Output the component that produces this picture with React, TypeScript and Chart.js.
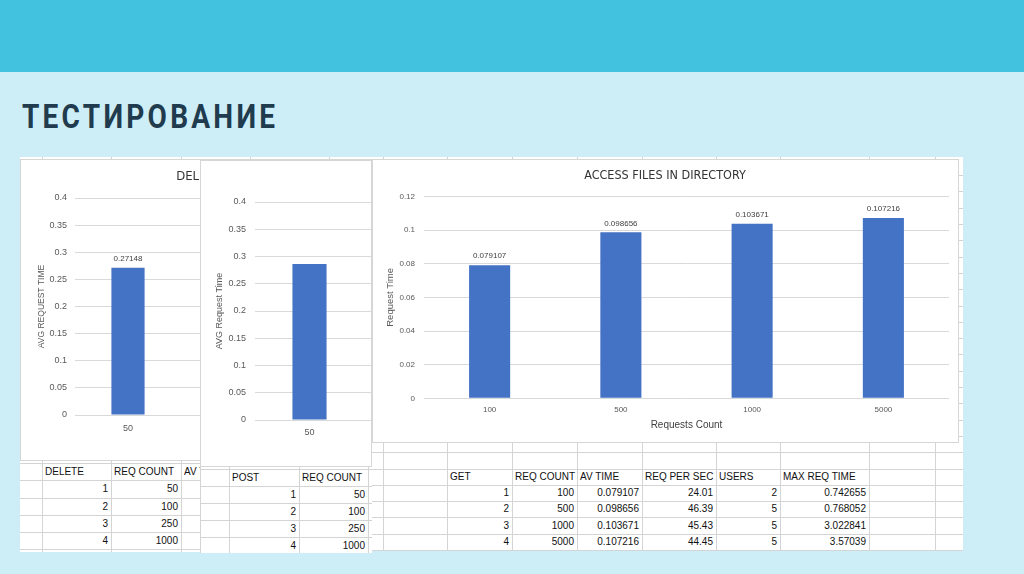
import React, { useEffect, useRef } from 'react';
import { Chart, registerables } from 'chart.js';

Chart.register(...registerables);

// ---------- data ----------
const deleteCategories = ['50', '100', '250', '1000'];
const deleteValues: (number | null)[] = [0.27148, null, null, null];

const postCategories = ['50', '100', '250', '1000'];
const postValues: (number | null)[] = [0.2862, null, null, null];

const getCategories = ['100', '500', '1000', '5000'];
const getValues: (number | null)[] = [0.079107, 0.098656, 0.103671, 0.107216];

const deleteTableHeader = ['', 'DELETE', 'REQ COUNT', 'AV TIME'];
const deleteIds = ['1', '2', '3', '4'];
const deleteReqCount = ['50', '100', '250', '1000'];

const postTableHeader = ['', 'POST', 'REQ COUNT'];
const postIds = ['1', '2', '3', '4'];
const postReqCount = ['50', '100', '250', '1000'];

const getTableHeader = ['', 'GET', 'REQ COUNT', 'AV TIME', 'REQ PER SEC', 'USERS', 'MAX REQ TIME'];
const getIds = ['1', '2', '3', '4'];
const getReqCount = ['100', '500', '1000', '5000'];
const getAvTime = ['0.079107', '0.098656', '0.103671', '0.107216'];
const getReqPerSec = ['24.01', '46.39', '45.43', '44.45'];
const getUsers = ['2', '5', '5', '5'];
const getMaxReqTime = ['0.742655', '0.768052', '3.022841', '3.57039'];

const deleteTitle = 'DELETE FILES IN DIRECTORY';
const getTitle = 'ACCESS FILES IN DIRECTORY';

// ---------- styles ----------
const FONT = "'Liberation Sans', Arial, sans-serif";
const NARROW = "'Liberation Sans Narrow', 'DejaVu Sans Condensed', 'Liberation Sans', sans-serif";
const BAR = '#4472C4';
const GRID = '#d9d9d9';
const TICK = '#595959';
const DARK = '#404040';

const fmt = (v: any) => String(parseFloat(Number(v).toFixed(6)));

const barValueLabels = {
  id: 'barValueLabels',
  afterDatasetsDraw(chart: any, _args: any, opts: any) {
    if (!opts || !opts.display) return;
    const ctx = chart.ctx;
    chart.data.datasets.forEach((ds: any, i: number) => {
      const meta = chart.getDatasetMeta(i);
      meta.data.forEach((el: any, j: number) => {
        const v = ds.data[j];
        if (v === null || v === undefined) return;
        ctx.save();
        ctx.font = `${opts.size}px ${FONT}`;
        ctx.fillStyle = DARK;
        ctx.textAlign = 'center';
        ctx.textBaseline = 'middle';
        ctx.fillText(String(v), el.x, el.y - opts.offset);
        ctx.restore();
      });
    });
  },
};

interface Spec {
  labels: string[];
  values: (number | null)[];
  title?: string;
  titleSize?: number;
  titlePad?: { top: number; bottom: number };
  yTitle: string;
  yTitleSize: number;
  yTitlePad: number;
  yMax: number;
  yStep: number;
  tickSize: number;
  yAxisWidth: number;
  yTickPad: number;
  xAxisHeight: number;
  xTickPad: number;
  xTitle?: string;
  xTitleSize?: number;
  xTitlePadBottom?: number;
  padding: { left: number; right: number; top: number; bottom: number };
  showValues: boolean;
  valueSize?: number;
  valueOffset?: number;
}

function makeConfig(s: Spec): any {
  return {
    type: 'bar',
    data: {
      labels: s.labels,
      datasets: [
        {
          data: s.values,
          backgroundColor: BAR,
          categoryPercentage: 0.313,
          barPercentage: 1,
          borderWidth: 0,
        },
      ],
    },
    options: {
      responsive: false,
      animation: false,
      events: [],
      layout: { padding: s.padding, autoPadding: false },
      plugins: {
        legend: { display: false },
        tooltip: { enabled: false },
        title: s.title
          ? {
              display: true,
              text: s.title,
              color: '#333333',
              font: { family: NARROW, size: s.titleSize, weight: 'normal', lineHeight: 1.2 },
              padding: s.titlePad,
            }
          : { display: false },
        barValueLabels: { display: s.showValues, size: s.valueSize, offset: s.valueOffset },
      },
      scales: {
        x: {
          grid: { display: false, drawTicks: false },
          border: { display: false },
          ticks: {
            font: { family: FONT, size: s.tickSize },
            color: TICK,
            padding: s.xTickPad,
            maxRotation: 0,
            autoSkip: false,
          },
          title: s.xTitle
            ? {
                display: true,
                text: s.xTitle,
                color: DARK,
                font: { family: FONT, size: s.xTitleSize },
                padding: { top: 0, bottom: s.xTitlePadBottom },
              }
            : { display: false },
          afterFit: (sc: any) => {
            sc.height = s.xAxisHeight;
          },
        },
        y: {
          min: 0,
          max: s.yMax,
          grid: { color: GRID, drawTicks: false, lineWidth: 1 },
          border: { display: false },
          ticks: {
            stepSize: s.yStep,
            font: { family: FONT, size: s.tickSize },
            color: TICK,
            padding: s.yTickPad,
            callback: (v: any) => fmt(v),
          },
          title: {
            display: true,
            text: s.yTitle,
            color: TICK,
            font: { family: FONT, size: s.yTitleSize },
            padding: { top: s.yTitlePad, bottom: 0 },
          },
          afterFit: (sc: any) => {
            sc.width = s.yAxisWidth;
          },
        },
      },
    },
    plugins: [barValueLabels],
  };
}

function ChartBox(props: {
  left: number;
  top: number;
  width: number;
  height: number;
  canvasWidth: number;
  spec: Spec;
}) {
  const ref = useRef<HTMLCanvasElement>(null);
  useEffect(() => {
    const chart = new Chart(ref.current as HTMLCanvasElement, makeConfig(props.spec));
    return () => chart.destroy();
  }, []);
  return (
    <div
      style={{
        position: 'absolute',
        left: props.left,
        top: props.top,
        width: props.width,
        height: props.height,
        background: '#fff',
        border: '1px solid #d6d6d6',
        boxSizing: 'border-box',
        overflow: 'hidden',
      }}
    >
      <canvas
        ref={ref}
        width={props.canvasWidth}
        height={props.height}
        style={{ position: 'absolute', left: -1, top: -1, width: props.canvasWidth, height: props.height }}
      />
    </div>
  );
}

// ---------- sheet helpers ----------
function Sheet(props: {
  left: number;
  top: number;
  width: number;
  height: number;
  cols: number[];
  rows: number[];
  children?: React.ReactNode;
}) {
  const { left, top, width, height } = props;
  return (
    <div
      style={{
        position: 'absolute',
        left,
        top,
        width,
        height,
        background: '#fff',
        overflow: 'hidden',
      }}
    >
      {props.cols.map((x, i) => (
        <div
          key={'c' + i}
          style={{ position: 'absolute', left: Math.round(x - left), top: 0, width: 1, height, background: '#d4d4d4' }}
        />
      ))}
      {props.rows.map((y, i) => (
        <div
          key={'r' + i}
          style={{ position: 'absolute', left: 0, top: Math.round(y - top), width, height: 1, background: '#d4d4d4' }}
        />
      ))}
      {props.children}
    </div>
  );
}

function Cells(props: { originX: number; originY: number; colEdges: number[]; rowEdges: number[]; data: string[][] }) {
  const out: React.ReactNode[] = [];
  props.data.forEach((row, r) => {
    row.forEach((txt, c) => {
      if (!txt) return;
      const x0 = props.colEdges[c];
      const x1 = props.colEdges[c + 1];
      const y0 = props.rowEdges[r];
      const y1 = props.rowEdges[r + 1];
      const header = r === 0;
      out.push(
        <div
          key={r + '-' + c}
          style={{
            position: 'absolute',
            left: x0 - props.originX,
            top: y0 - props.originY,
            width: x1 - x0,
            height: y1 - y0,
            lineHeight: `${y1 - y0}px`,
            fontFamily: FONT,
            fontSize: 10,
            color: '#111',
            whiteSpace: 'nowrap',
            textAlign: header ? 'left' : 'right',
            paddingLeft: header ? 3 : 0,
            paddingRight: header ? 0 : 3,
            boxSizing: 'border-box',
          }}
        >
          {txt}
        </div>
      );
    });
  });
  return <>{out}</>;
}

const range = (a: number, b: number) => {
  const r: number[] = [];
  for (let i = a; i <= b; i++) r.push(i);
  return r;
};

export default function App() {
  // DELETE sheet geometry
  const delRows = range(-17, 5).map((k) => 463 + 17.25 * k);
  const delCols = [20, 42, 111, 181, 250];
  const delRowEdges = range(0, 5).map((k) => Math.round(463 + 17.25 * k));
  const delData = [deleteTableHeader, ...deleteIds.map((id, i) => ['', id, deleteReqCount[i], ''])];

  // POST sheet geometry
  const postRows = range(0, 5).map((k) => 468.5 + 17 * k);
  const postCols = [200, 229, 299, 368, 372];
  const postRowEdges = range(0, 5).map((k) => Math.round(468.5 + 17 * k));
  const postData = [postTableHeader, ...postIds.map((id, i) => ['', id, postReqCount[i]])];

  // GET sheet geometry
  const getRows = range(-18, 5).map((k) => 468.5 + 16.3 * k);
  const getColsAll = [250, 329, 383, 447, 512, 577, 642, 716, 780, 869, 935];
  const getColEdges = [383, 447, 512, 577, 642, 716, 780, 869];
  const getRowEdges = range(0, 5).map((k) => Math.round(468.5 + 16.3 * k));
  const getData = [
    getTableHeader,
    ...getIds.map((id, i) => ['', id, getReqCount[i], getAvTime[i], getReqPerSec[i], getUsers[i], getMaxReqTime[i]]),
  ];

  const deleteSpec: Spec = {
    labels: deleteCategories,
    values: deleteValues,
    title: deleteTitle,
    titleSize: 13,
    titlePad: { top: 10, bottom: 13.4 },
    yTitle: 'AVG REQUEST TIME',
    yTitleSize: 8.5,
    yTitlePad: 17,
    yMax: 0.4,
    yStep: 0.05,
    tickSize: 9,
    yAxisWidth: 55,
    yTickPad: 8,
    xAxisHeight: 46,
    xTickPad: 8,
    padding: { left: 0, right: 0, top: 0, bottom: 0 },
    showValues: true,
    valueSize: 8,
    valueOffset: 9,
  };

  const postSpec: Spec = {
    labels: postCategories,
    values: postValues,
    yTitle: 'AVG Request Time',
    yTitleSize: 9,
    yTitlePad: 14.6,
    yMax: 0.4,
    yStep: 0.05,
    tickSize: 9,
    yAxisWidth: 55,
    yTickPad: 9,
    xAxisHeight: 47,
    xTickPad: 7.6,
    padding: { left: 0, right: 0, top: 42, bottom: 0 },
    showValues: false,
  };

  const getSpec: Spec = {
    labels: getCategories,
    values: getValues,
    title: getTitle,
    titleSize: 12.5,
    titlePad: { top: 9.2, bottom: 13.2 },
    yTitle: 'Request Time',
    yTitleSize: 9.5,
    yTitlePad: 3.3,
    yMax: 0.12,
    yStep: 0.02,
    tickSize: 8,
    yAxisWidth: 43,
    yTickPad: 9,
    xAxisHeight: 44.7,
    xTickPad: 6.9,
    xTitle: 'Requests Count',
    xTitleSize: 10,
    xTitlePadBottom: 12,
    padding: { left: 9, right: 10, top: 0, bottom: 0 },
    showValues: true,
    valueSize: 8,
    valueOffset: 9,
  };

  return (
    <div
      style={{
        position: 'fixed',
        left: 0,
        top: 0,
        width: 1024,
        height: 574,
        overflow: 'hidden',
        background: '#CDEEF7',
      }}
    >
      <div style={{ position: 'absolute', left: 0, top: 0, width: 1024, height: 72, background: '#43C2DF' }} />
      <div
        style={{
          position: 'absolute',
          left: 22,
          top: 100,
          fontFamily: 'Roboto, sans-serif',
          fontWeight: 700,
          fontSize: 33,
          lineHeight: '33px',
          letterSpacing: '3.8px',
          color: '#1F3B4D',
          transform: 'scaleX(0.85)',
          transformOrigin: 'left top',
          whiteSpace: 'nowrap',
        }}
      >
        ТЕСТИРОВАНИЕ
      </div>

      {/* GET sheet (base) */}
      <Sheet left={20} top={157} width={943} height={394} cols={getColsAll} rows={getRows}>
        <Cells originX={20} originY={157} colEdges={getColEdges} rowEdges={getRowEdges} data={getData} />
      </Sheet>

      {/* DELETE sheet */}
      <Sheet left={20} top={157} width={180} height={395} cols={[42, 111, 181]} rows={delRows}>
        <Cells originX={20} originY={157} colEdges={delCols} rowEdges={delRowEdges} data={delData} />
      </Sheet>
      <ChartBox left={20} top={159} width={352} height={302} canvasWidth={479} spec={deleteSpec} />

      {/* POST sheet + chart */}
      <Sheet left={200} top={160} width={172} height={393} cols={[200, 229, 299, 368]} rows={postRows}>
        <Cells originX={200} originY={160} colEdges={postCols} rowEdges={postRowEdges} data={postData} />
      </Sheet>
      <ChartBox left={200} top={160} width={172} height={307} canvasWidth={491} spec={postSpec} />

      {/* GET chart */}
      <ChartBox left={372} top={159} width={587} height={284} canvasWidth={587} spec={getSpec} />
    </div>
  );
}
